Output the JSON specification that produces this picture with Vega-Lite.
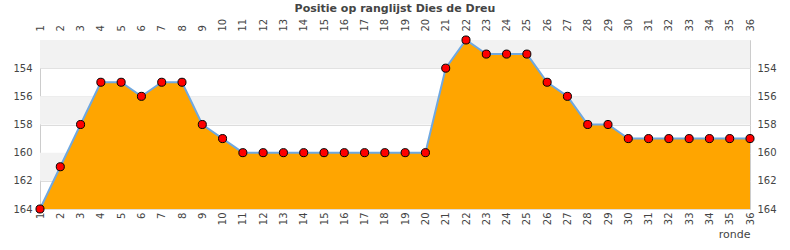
{
  "$schema": "https://vega.github.io/schema/vega-lite/v6.json",
  "autosize": "none",
  "width": 710,
  "height": 169,
  "padding": {"left": 40, "top": 40, "right": 40, "bottom": 41},
  "background": "white",
  "config": {
    "font": "DejaVu Sans",
    "view": {"stroke": "#cccccc", "strokeWidth": 1},
    "axis": {"labelColor": "#444444", "labelFont": "DejaVu Sans", "domain": false, "ticks": false}
  },
  "title": {"text": "Positie op ranglijst Dies de Dreu", "fontSize": 11, "fontWeight": "bold", "color": "#444444", "anchor": "middle", "offset": 4},
  "datasets": {
    "bands": [{"b0": 152, "b1": 154}, {"b0": 156, "b1": 158}, {"b0": 160, "b1": 162}],
    "pos": [
      {"ronde": 1, "positie": 164}, {"ronde": 2, "positie": 161}, {"ronde": 3, "positie": 158},
      {"ronde": 4, "positie": 155}, {"ronde": 5, "positie": 155}, {"ronde": 6, "positie": 156},
      {"ronde": 7, "positie": 155}, {"ronde": 8, "positie": 155}, {"ronde": 9, "positie": 158},
      {"ronde": 10, "positie": 159}, {"ronde": 11, "positie": 160}, {"ronde": 12, "positie": 160},
      {"ronde": 13, "positie": 160}, {"ronde": 14, "positie": 160}, {"ronde": 15, "positie": 160},
      {"ronde": 16, "positie": 160}, {"ronde": 17, "positie": 160}, {"ronde": 18, "positie": 160},
      {"ronde": 19, "positie": 160}, {"ronde": 20, "positie": 160}, {"ronde": 21, "positie": 154},
      {"ronde": 22, "positie": 152}, {"ronde": 23, "positie": 153}, {"ronde": 24, "positie": 153},
      {"ronde": 25, "positie": 153}, {"ronde": 26, "positie": 155}, {"ronde": 27, "positie": 156},
      {"ronde": 28, "positie": 158}, {"ronde": 29, "positie": 158}, {"ronde": 30, "positie": 159},
      {"ronde": 31, "positie": 159}, {"ronde": 32, "positie": 159}, {"ronde": 33, "positie": 159},
      {"ronde": 34, "positie": 159}, {"ronde": 35, "positie": 159}, {"ronde": 36, "positie": 159}
    ]
  },
  "layer": [
    {
      "data": {"name": "bands"},
      "mark": {"type": "rect", "color": "#f2f2f2"},
      "encoding": {
        "y": {"field": "b0", "type": "quantitative", "scale": {"domain": [152, 164], "reverse": true, "nice": false, "zero": false}, "axis": null},
        "y2": {"field": "b1"}
      }
    },
    {
      "data": {"name": "pos"},
      "layer": [
        {
          "mark": {"type": "area", "color": "#ffa500", "opacity": 1, "fillOpacity": 1, "line": {"color": "#6fa8e0", "strokeWidth": 2}},
          "encoding": {
            "x": {"field": "ronde", "type": "quantitative", "scale": {"domain": [1, 36], "nice": false, "zero": false},
              "axis": {"orient": "bottom", "values": [1,2,3,4,5,6,7,8,9,10,11,12,13,14,15,16,17,18,19,20,21,22,23,24,25,26,27,28,29,30,31,32,33,34,35,36], "labelAngle": -90, "labelFontSize": 10, "labelPadding": 3, "grid": false, "title": "ronde", "titleAnchor": "end", "titleFontWeight": "normal", "titleFontSize": 11, "titleColor": "#444444", "titlePadding": 4}},
            "y": {"field": "positie", "type": "quantitative", "scale": {"domain": [152, 164], "reverse": true, "nice": false, "zero": false},
              "axis": {"orient": "left", "values": [154, 156, 158, 160, 162, 164], "labelFontSize": 10, "labelPadding": 8, "grid": true, "gridColor": "#dddddd", "title": null}},
            "y2": {"datum": 164}
          }
        },
        {
          "mark": {"type": "point", "shape": "circle", "filled": true, "color": "#ff0000", "stroke": "#000000", "strokeWidth": 1, "size": 65, "opacity": 1},
          "encoding": {
            "x": {"field": "ronde", "type": "quantitative",
              "axis": {"orient": "top", "values": [1,2,3,4,5,6,7,8,9,10,11,12,13,14,15,16,17,18,19,20,21,22,23,24,25,26,27,28,29,30,31,32,33,34,35,36], "labelAngle": -90, "labelFontSize": 10, "labelPadding": 9, "grid": false, "title": null}},
            "y": {"field": "positie", "type": "quantitative",
              "axis": {"orient": "right", "values": [154, 156, 158, 160, 162, 164], "labelFontSize": 10, "labelPadding": 7, "grid": false, "title": null}}
          }
        }
      ]
    }
  ],
  "resolve": {"axis": {"x": "independent", "y": "independent"}}
}
